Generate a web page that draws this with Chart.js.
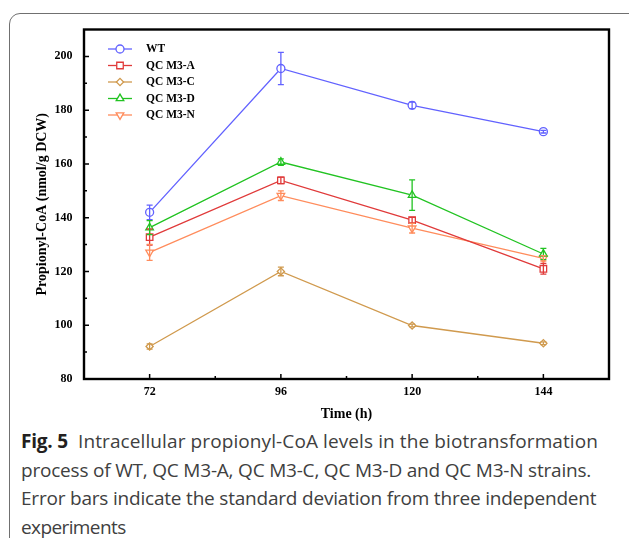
<!DOCTYPE html>
<html lang="en">
<head>
    <meta charset="UTF-8">
    <title>Intracellular propionyl-CoA levels</title>
    <style>
        body {
            margin: 0;
            background: #ffffff;
            width: 629px;
            height: 538px;
            overflow: hidden;
            position: relative;
        }
        .frame {
            position: absolute;
            left: 9px;
            top: 13px;
            width: 700px;
            height: 600px;
            border: 1px solid #707070;
            border-radius: 11px;
            box-sizing: border-box;
        }
        #chartBox {
            position: absolute;
            left: 0;
            top: 0;
        }
        .caption {
            position: absolute;
            left: 21px;
            top: 427px;
            font-family: 'Open Sans', sans-serif;
            font-size: 19px;
            line-height: 28.5px;
            color: #404040;
            white-space: nowrap;
            letter-spacing: -0.2px;
        }
        .caption .first {
            letter-spacing: 0.1px;
        }
        .caption .last {
            letter-spacing: -0.6px;
        }
        .caption b {
            color: #231f20;
            letter-spacing: -0.2px;
        }
    </style>
    <script src="https://cdn.jsdelivr.net/npm/chart.js@4.4.0/dist/chart.umd.min.js"></script>
</head>
<body>
    <div class="frame"></div>
    <canvas id="chartBox" width="629" height="425"></canvas>
    <div class="caption">
        <span class="first"><b>Fig. 5</b>&nbsp; Intracellular propionyl-CoA levels in the biotransformation</span><br>
        process of WT, QC M3-A, QC M3-C, QC M3-D and QC M3-N strains.<br>
        Error bars indicate the standard deviation from three independent<br>
        <span class="last">experiments</span>
    </div>

    <script>
        // sampling times (h)
        const times = [72, 96, 120, 144];

        const seriesNames = ['WT', 'QC M3-A', 'QC M3-C', 'QC M3-D', 'QC M3-N'];

        // propionyl-CoA, nmol/g DCW
        const wt   = [142.0, 195.5, 181.8, 172.0];
        const qcA  = [132.8, 153.9, 139.1, 121.0];
        const qcC  = [92.1, 120.0, 99.9, 93.3];
        const qcD  = [136.3, 160.7, 148.4, 126.5];
        const qcN  = [127.1, 148.2, 136.1, 124.9];

        // standard deviations
        const wtErr  = [2.7, 6.0, 1.2, 0.5];
        const qcAErr = [3.0, 1.2, 1.0, 2.0];
        const qcCErr = [1.0, 1.6, 0.5, 0.5];
        const qcDErr = [2.6, 1.2, 5.7, 2.1];
        const qcNErr = [3.0, 1.8, 1.8, 1.0];

        // axis ticks
        const xTicks = [72, 96, 120, 144];
        const xMinorTicks = [84, 108, 132];
        const yTicks = [80, 100, 120, 140, 160, 180, 200];
        const yMinorTicks = [90, 110, 130, 150, 170, 190];

        const colors = ['#6262ff', '#e03a3a', '#d09a4e', '#22c322', '#ff8c5c'];
        const markers = ['circle', 'rect', 'rectRot', 'triangle', 'triangle'];
        const rotations = [0, 0, 0, 0, 180];
        const radii = [4, 4.6, 3.6, 4.4, 4.4];

        const values = [wt, qcA, qcC, qcD, qcN];
        const errors = [wtErr, qcAErr, qcCErr, qcDErr, qcNErr];

        const serif = "'Liberation Serif', 'Times New Roman', serif";

        const datasets = seriesNames.map((name, i) => ({
            label: name,
            data: times.map((t, j) => ({ x: t, y: values[i][j] })),
            borderColor: colors[i],
            backgroundColor: '#ffffff',
            borderWidth: 1.3,
            pointStyle: markers[i],
            pointRotation: rotations[i],
            pointRadius: radii[i],
            pointBorderWidth: 1.3,
            pointBackgroundColor: '#ffffff',
            pointBorderColor: colors[i],
            tension: 0,
            errors: errors[i]
        }));

        // error bars with caps
        const errorBars = {
            id: 'errorBars',
            afterDatasetsDraw(chart) {
                const ctx = chart.ctx;
                const xs = chart.scales.x, ys = chart.scales.y;
                ctx.save();
                chart.data.datasets.forEach((ds, i) => {
                    ctx.strokeStyle = ds.borderColor;
                    ctx.lineWidth = 1.3;
                    ds.data.forEach((p, j) => {
                        const e = ds.errors[j];
                        const x = xs.getPixelForValue(p.x);
                        const top = ys.getPixelForValue(p.y + e);
                        const bot = ys.getPixelForValue(p.y - e);
                        ctx.beginPath();
                        ctx.moveTo(x, top); ctx.lineTo(x, bot);
                        ctx.moveTo(x - 3, top); ctx.lineTo(x + 3, top);
                        ctx.moveTo(x - 3, bot); ctx.lineTo(x + 3, bot);
                        ctx.stroke();
                    });
                });
                ctx.restore();
            }
        };

        // closed frame and inward tick marks
        const frameTicks = {
            id: 'frameTicks',
            afterDraw(chart) {
                const ctx = chart.ctx;
                const a = chart.chartArea;
                const xs = chart.scales.x, ys = chart.scales.y;
                ctx.save();
                ctx.strokeStyle = '#000';
                ctx.lineWidth = 1.5;
                ctx.beginPath();
                yTicks.forEach(v => { const y = ys.getPixelForValue(v); ctx.moveTo(a.left, y); ctx.lineTo(a.left + 5, y); });
                yMinorTicks.forEach(v => { const y = ys.getPixelForValue(v); ctx.moveTo(a.left, y); ctx.lineTo(a.left + 3, y); });
                xTicks.forEach(v => { const x = xs.getPixelForValue(v); ctx.moveTo(x, a.bottom); ctx.lineTo(x, a.bottom - 5); });
                xMinorTicks.forEach(v => { const x = xs.getPixelForValue(v); ctx.moveTo(x, a.bottom); ctx.lineTo(x, a.bottom - 3); });
                ctx.stroke();
                ctx.lineWidth = 2.4;
                ctx.strokeRect(a.left, a.top, a.right - a.left, a.bottom - a.top);
                ctx.restore();
            }
        };

        // legend inside the plot, top left
        const innerLegend = {
            id: 'innerLegend',
            afterDraw(chart) {
                const ctx = chart.ctx;
                const a = chart.chartArea;
                ctx.save();
                ctx.font = 'bold 11.5px ' + serif;
                ctx.textBaseline = 'middle';
                chart.data.datasets.forEach((ds, i) => {
                    const y = a.top + 19.5 + i * 16.5;
                    const x0 = a.left + 24, x1 = a.left + 48;
                    ctx.strokeStyle = ds.borderColor;
                    ctx.lineWidth = 1.3;
                    ctx.beginPath();
                    ctx.moveTo(x0, y); ctx.lineTo(x1, y);
                    ctx.stroke();
                    ctx.fillStyle = '#ffffff';
                    Chart.helpers.drawPoint(ctx, {
                        pointStyle: ds.pointStyle,
                        rotation: ds.pointRotation,
                        radius: ds.pointRadius,
                        borderWidth: 1.3
                    }, (x0 + x1) / 2, y);
                    ctx.fillStyle = '#000';
                    ctx.fillText(ds.label, a.left + 62, y + 0.5);
                });
                ctx.restore();
            }
        };

        new Chart(document.getElementById('chartBox'), {
            type: 'line',
            data: { datasets },
            plugins: [errorBars, frameTicks, innerLegend],
            options: {
                responsive: false,
                animation: false,
                devicePixelRatio: 1,
                layout: { padding: { top: 29.5, right: 20, left: 0, bottom: 0 } },
                plugins: {
                    legend: { display: false },
                    tooltip: { enabled: false }
                },
                scales: {
                    x: {
                        type: 'linear',
                        min: 60,
                        max: 156,
                        afterBuildTicks: s => { s.ticks = xTicks.map(v => ({ value: v })); },
                        afterFit: s => { s.height = 46; },
                        grid: { display: false },
                        border: { display: false },
                        ticks: {
                            padding: -2,
                            color: '#000',
                            font: { family: serif, size: 12, weight: 'bold' }
                        },
                        title: {
                            display: true,
                            text: 'Time (h)',
                            color: '#000',
                            padding: { top: 0, bottom: 2 },
                            font: { family: serif, size: 14, weight: 'bold' }
                        }
                    },
                    y: {
                        min: 80,
                        max: 210,
                        afterBuildTicks: s => { s.ticks = yTicks.map(v => ({ value: v })); },
                        afterFit: s => { s.width = 84; },
                        grid: { display: false },
                        border: { display: false },
                        ticks: {
                            padding: 3.5,
                            color: '#000',
                            font: { family: serif, size: 12, weight: 'bold' }
                        },
                        title: {
                            display: true,
                            text: 'Propionyl-CoA (nmol/g DCW)',
                            color: '#000',
                            padding: { top: 34, bottom: 0 },
                            font: { family: serif, size: 14, weight: 'bold' }
                        }
                    }
                }
            }
        });
    </script>
</body>
</html>
